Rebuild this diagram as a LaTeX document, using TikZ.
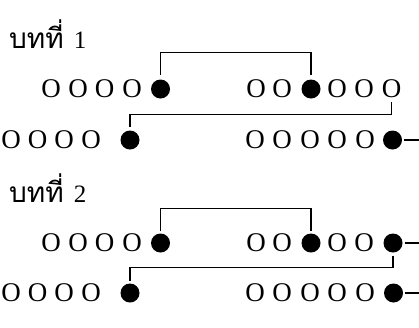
\documentclass[tikz,border=0pt]{standalone}
\usepackage{fontspec}
\setmainfont{Liberation Serif}
\newfontfamily\thaifont[Script=Thai]{Loma}
\usetikzlibrary{positioning,shapes.geometric}
\tikzset{
  bead/.style={inner sep=0pt,font=\fontsize{27}{27}\selectfont},
  dot/.style={circle,fill,minimum size=19pt,inner sep=0pt},
  link/.style={line width=1.3pt},
  title/.style={anchor=base west,inner sep=0pt,font=\fontsize{25}{25}\selectfont}
}
\begin{document}
\begin{tikzpicture}[x=1pt,y=-1pt]
  \useasboundingbox (0,0) rectangle (419,327);
  % titles
  \node[title] (t1) at (9,48) {{\thaifont\fontsize{28}{28}\selectfont บทที่}\hspace{10pt}1};
  \node[title] (t2) at (9,202) {{\thaifont\fontsize{28}{28}\selectfont บทที่}\hspace{10pt}2};
  % row 1
  \foreach \x [count=\i] in {51,78,104.5,132}
    \node[bead] (r1a\i) at (\x,89) {O};
  \node[dot] (r1a5) at (160.5,89) {};
  \foreach \x/\s/\t [count=\i] in {256/bead/O,282/bead/O,311/dot/,337/bead/O,364/bead/O,391.5/bead/O}
    \node[\s] (r1b\i) at (\x,89) {\t};
  % row 2
  \foreach \x [count=\i] in {11,37.5,64,91}
    \node[bead] (r2a\i) at (\x,140) {O};
  \node[dot] (r2a5) at (130,140) {};
  \foreach \x/\s/\t [count=\i] in {255/bead/O,282/bead/O,310/bead/O,337/bead/O,365/bead/O,392.5/dot/}
    \node[\s] (r2b\i) at (\x,140) {\t};
  % row 3
  \foreach \x [count=\i] in {51,78,104.5,132}
    \node[bead] (r3a\i) at (\x,243) {O};
  \node[dot] (r3a5) at (160.5,243) {};
  \foreach \x/\s/\t [count=\i] in {256/bead/O,282/bead/O,311/dot/,337/bead/O,364/bead/O,393/dot/}
    \node[\s] (r3b\i) at (\x,243) {\t};
  % row 4
  \foreach \x [count=\i] in {11,37.5,64,91}
    \node[bead] (r4a\i) at (\x,293) {O};
  \node[dot] (r4a5) at (130,293) {};
  \foreach \x/\s/\t [count=\i] in {255/bead/O,282/bead/O,310/bead/O,337/bead/O,365/bead/O,393.5/dot/}
    \node[\s] (r4b\i) at (\x,293) {\t};
  % free ends
  \coordinate (e2) at (419,140);
  \coordinate (e3) at (419,243);
  \coordinate (e4) at (419,293);
  % connectors
  \draw[link] ([yshift=4pt]r1a5.north) -- ([yshift=27pt]r1a5.north) -| ([yshift=4pt]r1b3.north);
  \draw[link] ([yshift=-4pt]r1b6.south) -- ([yshift=-16pt]r1b6.south) -| ([yshift=3pt]r2a5.north);
  \draw[link] ([xshift=2pt]r2b6.east) -- (e2);
  \draw[link] ([yshift=2pt]r3a5.north) -- ([yshift=25pt]r3a5.north) -| ([yshift=2pt]r3b3.north);
  \draw[link] ([yshift=-3pt]r3b6.south) -- ([yshift=-15pt]r3b6.south) -| ([yshift=2pt]r4a5.north);
  \draw[link] ([xshift=2pt]r3b6.east) -- (e3);
  \draw[link] ([xshift=2pt]r4b6.east) -- (e4);
\end{tikzpicture}
\end{document}
